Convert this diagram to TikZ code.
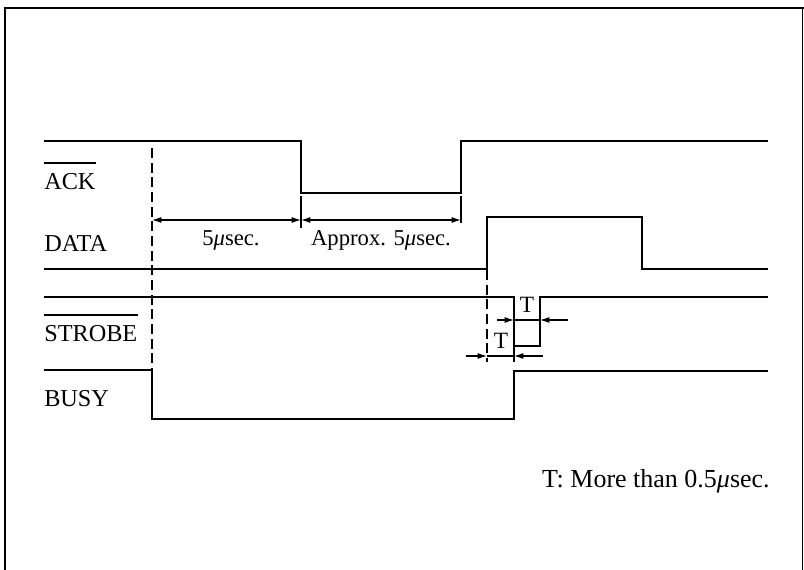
\documentclass[tikz,border=0pt]{standalone}
\usepackage{fontspec}
\setmainfont{Liberation Serif}
\usetikzlibrary{arrows.meta,calc}
\tikzset{
  sig/.style={line width=1.5pt, line join=miter},
  frame/.style={line width=1.2pt},
  dimline/.style={line width=0.9pt},
  dimarrow/.style={line width=0.9pt, {Latex[length=7pt,width=4.5pt]}-{Latex[length=7pt,width=4.5pt]}},
  onearrow/.style={line width=0.9pt, -{Latex[length=7pt,width=4.5pt]}},
  dashline/.style={line width=0.9pt, dash pattern=on 7.5pt off 3.5pt},
  lbl/.style={inner sep=0pt, anchor=base west, font=\fontsize{18.2}{21}\selectfont},
  dimlbl/.style={inner sep=0pt, anchor=base, font=\fontsize{17}{20}\selectfont},
  tlbl/.style={inner sep=0pt, anchor=base, font=\fontsize{17.5}{20}\selectfont},
  over/.style={line width=1.1pt}
}
\begin{document}
\begin{tikzpicture}[x=0.75pt,y=-0.75pt]
\useasboundingbox (0,0) rectangle (804,570);
% frame
\draw[frame] (5,570) -- (5,8) -- (804,8);
\draw[frame] (802.5,8) -- (802.5,570);

% signal labels
\node[lbl] (ack) at (44,190) {ACK};
\draw[over] ($(ack.base west)+(0,-27)$) -- ($(ack.base east)+(0,-27)$);
\node[lbl] (data) at (44,251.5) {DATA};
\node[lbl] (strobe) at (44,341.5) {STROBE};
\draw[over] ($(strobe.base west)+(0,-26.5)$) -- ($(strobe.base east)+(0,-26.5)$);
\node[lbl] (busy) at (44,406.5) {BUSY};

% waveforms
\draw[sig] (44,141) -- (301,141) -- (301,193) -- (461,193) -- (461,141) -- (768,141);
\draw[sig] (44,269) -- (487,269) -- (487,217) -- (642,217) -- (642,269) -- (768,269);
\draw[sig] (44,297) -- (514,297) -- (514,346) -- (540,346) -- (540,297) -- (768,297);
\draw[sig] (44,370) -- (152,370) -- (152,419) -- (514,419) -- (514,371) -- (768,371);

% dashed reference lines
\coordinate (d1top) at (152,148);
\coordinate (d1bot) at (152,369);
\draw[dashline] (d1top) -- (d1bot);
\coordinate (d2top) at (487,270);
\coordinate (d2bot) at (487,362);
\draw[dashline] (d2top) -- (d2bot);
\draw[dimline] (514,346) -- (514,362);

% extension lines
\draw[dimline] (301,196) -- (301,228);
\draw[dimline] (461,196) -- (461,223);

% dimension arrows
\coordinate (a0) at (152,220);
\coordinate (a1) at (301,220);
\coordinate (a2) at (461,220);
\draw[dimarrow] (a0) -- (a1);
\draw[dimarrow] (a1) -- (a2);
\node[dimlbl] (l1) at (231,246) {5\textit{μ}sec.};
\node[dimlbl] (l2) at (381,246) {Approx. 5\textit{μ}sec.};

% T dimensions (upper)
\coordinate (u0) at (497,320);
\coordinate (u1) at (514,320);
\coordinate (u2) at (540,320);
\coordinate (u3) at (568,320);
\draw[onearrow] (u0) -- (u1);
\draw[dimline] (u1) -- (u2);
\draw[onearrow] (u3) -- (u2);
\node[tlbl] (t1) at (527,313) {T};

% T dimensions (lower)
\coordinate (w0) at (466,356);
\coordinate (w1) at (487,356);
\coordinate (w2) at (514,356);
\coordinate (w3) at (543,356);
\draw[onearrow] (w0) -- (w1);
\draw[dimline] (w1) -- (w2);
\draw[onearrow] (w3) -- (w2);
\node[tlbl] (t2) at (501,349) {T};

% note
\node[inner sep=0pt, anchor=base east, font=\fontsize{19.5}{23}\selectfont] (note) at (770,488) {T: More than 0.5\textit{μ}sec.};
\end{tikzpicture}
\end{document}
